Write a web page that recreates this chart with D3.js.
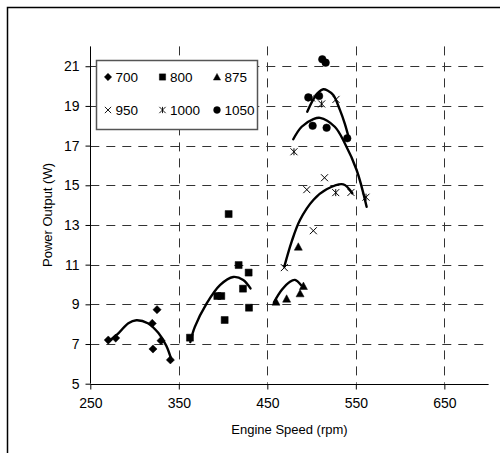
<!DOCTYPE html>
<html>
<head>
<meta charset="utf-8">
<script src="https://cdn.jsdelivr.net/npm/d3@7"></script>
<style>
    body { margin: 0; background: #fff; }
    svg { display: block; font-family: "Liberation Sans", Arial, sans-serif; }
</style>
</head>
<body>
<div id="chart"></div>
<script>
// series names (legend order) and their points [rpm, watts]
var seriesNames = ['700', '800', '875', '950', '1000', '1050'];

var s700 = [[270.3, 7.2], [278.7, 7.3], [320, 8.04], [320.8, 6.75], [325.4, 8.73], [329.9, 7.17], [340.5, 6.2]];
var s800 = [[362.6, 7.32], [393.5, 9.42], [398, 9.42], [401.8, 8.21], [406.3, 13.55], [417.6, 10.98], [422.5, 9.79], [428.9, 10.6], [429.3, 8.83]];
var s875 = [[459.8, 9.13], [471.8, 9.28], [485, 11.9], [487, 9.55], [490.8, 9.92]];
var s950 = [[469.2, 10.85], [494.6, 14.78], [502, 12.71], [514.6, 15.38], [527.6, 19.33], [544.5, 14.64]];
var s1000 = [[480.1, 16.69], [500, 19.4], [511.4, 19.1], [527.3, 14.63], [561.5, 14.4]];
var s1050 = [[512.1, 21.35], [515.9, 21.18], [496.3, 19.43], [508.5, 19.5], [501.2, 18.0], [517, 17.9], [540.3, 17.37]];

// trendlines
var t700 = [[270, 7.1], [282, 7.55], [293, 8.05], [302, 8.2], [315, 8.05], [327, 7.55], [336, 6.9], [342, 6.15]];
var t800 = [[363, 7.1], [368, 7.85], [381.5, 9.05], [396.5, 9.97], [411.5, 10.38], [422.8, 10.23], [431, 9.8]];
var t875 = [[457.5, 9.1], [466.2, 9.72], [475.6, 10.14], [481.2, 10.23], [488, 9.97]];
var t950 = [[469.2, 10.9], [477.5, 12.16], [486.9, 13.25], [502, 14.26], [517, 14.8], [535.8, 15.05], [546, 14.6]];
var t1000 = [[479.3, 17.32], [488.8, 17.95], [502, 18.33], [509.5, 18.4], [526.2, 17.95], [537.5, 17.12], [550.9, 15.77], [562.2, 13.92]];
var t1050 = [[495.1, 18.71], [502, 19.33], [508, 19.7], [513.2, 19.84], [518, 19.78], [524.5, 19.55], [532, 18.8], [537.6, 18.1], [542.6, 17.3]];

var xTicks = [250, 350, 450, 550, 650];
var yTicks = [5, 7, 9, 11, 13, 15, 17, 19, 21];

var seriesData = [s700, s800, s875, s950, s1000, s1050];
var trendData = [t700, t800, t875, t950, t1000, t1050];

var width = 500, height = 453;

var x = d3.scaleLinear().domain([250, 700]).range([90.3, 488.6]);
var y = d3.scaleLinear().domain([5, 22]).range([383.7, 46.4]);

// marker shapes, "size" is used as half-width
var shapes = {
    diamond: { draw: function(c, r) { r += 0.6; c.moveTo(0, -r); c.lineTo(r, 0); c.lineTo(0, r); c.lineTo(-r, 0); c.closePath(); } },
    square: { draw: function(c, r) { c.rect(-r, -r, 2 * r, 2 * r); } },
    triangle: { draw: function(c, r) { r += 0.5; c.moveTo(0, -r); c.lineTo(r, r * 0.85); c.lineTo(-r, r * 0.85); c.closePath(); } },
    cross: { draw: function(c, r) { c.moveTo(-r, -r); c.lineTo(r, r); c.moveTo(r, -r); c.lineTo(-r, r); } },
    star: { draw: function(c, r) { c.moveTo(-r, -r); c.lineTo(r, r); c.moveTo(r, -r); c.lineTo(-r, r); c.moveTo(0, -r); c.lineTo(0, r); } },
    circle: { draw: function(c, r) { r += 0.3; c.moveTo(r, 0); c.arc(0, 0, r, 0, 2 * Math.PI); } }
};
var seriesShape = ['diamond', 'square', 'triangle', 'cross', 'star', 'circle'];
var filled = { diamond: true, square: true, triangle: true, circle: true };

function symbolPath(name) {
    return d3.symbol().type(shapes[name]).size(3.5)();
}

function styleMarker(sel, name) {
    sel.attr('d', symbolPath(name))
        .attr('fill', filled[name] ? '#000' : 'none')
        .attr('stroke', '#000')
        .attr('stroke-width', filled[name] ? 0.5 : 1);
}

var svg = d3.select('#chart').append('svg')
    .attr('width', width)
    .attr('height', height);

svg.append('rect')
    .attr('width', width).attr('height', height)
    .attr('fill', '#fff');

// outer chart border (runs off the right and bottom)
svg.append('rect')
    .attr('x', 7.5).attr('y', 7.5)
    .attr('width', 520).attr('height', 480)
    .attr('fill', 'none')
    .attr('stroke', '#000')
    .attr('stroke-width', 1.5);

// grid
var grid = svg.append('g').attr('stroke', '#333').attr('stroke-width', 1).attr('stroke-dasharray', '9,7');

grid.selectAll('line.h')
    .data(yTicks.filter(function(d) { return d > 5; }))
    .enter().append('line')
    .attr('class', 'h')
    .attr('x1', x(250)).attr('x2', x(700))
    .attr('y1', function(d) { return Math.round(y(d)) + 0.5; })
    .attr('y2', function(d) { return Math.round(y(d)) + 0.5; });

grid.selectAll('line.v')
    .data(xTicks.filter(function(d) { return d > 250; }))
    .enter().append('line')
    .attr('class', 'v')
    .attr('x1', function(d) { return Math.round(x(d)) + 0.5; })
    .attr('x2', function(d) { return Math.round(x(d)) + 0.5; })
    .attr('y1', y(22)).attr('y2', y(5));

// axes
var xAxis = svg.append('g')
    .attr('transform', 'translate(0,' + (Math.round(y(5)) + 0.5) + ')')
    .call(d3.axisBottom(x).tickValues(xTicks).tickSize(5).tickPadding(9).tickFormat(d3.format('d')));

var yAxis = svg.append('g')
    .attr('transform', 'translate(' + (Math.round(x(250)) + 0.5) + ',0)')
    .call(d3.axisLeft(y).tickValues(yTicks).tickSize(5).tickPadding(6).tickFormat(d3.format('d')));

[xAxis, yAxis].forEach(function(a) {
    a.select('.domain').attr('stroke', '#000').attr('d', null);
    a.selectAll('.tick line').attr('stroke', '#000');
    a.selectAll('.tick text')
        .attr('fill', '#000')
        .style('font-size', '14px')
        .style('font-family', '"Liberation Sans", Arial, sans-serif');
});

xAxis.select('.domain').attr('d', 'M' + x(250) + ',0H' + x(700));
yAxis.select('.domain').attr('d', 'M0,' + y(22) + 'V' + y(5));

// axis titles
svg.append('text')
    .attr('x', 289.5).attr('y', 433.5)
    .attr('text-anchor', 'middle')
    .style('font-size', '13px')
    .text('Engine Speed (rpm)');

svg.append('text')
    .attr('transform', 'translate(52,215) rotate(-90)')
    .attr('text-anchor', 'middle')
    .style('font-size', '13px')
    .text('Power Output (W)');

// trendlines
var line = d3.line()
    .x(function(d) { return x(d[0]); })
    .y(function(d) { return y(d[1]); })
    .curve(d3.curveCatmullRom.alpha(0.5));

svg.append('g').selectAll('path')
    .data(trendData)
    .enter().append('path')
    .attr('d', line)
    .attr('fill', 'none')
    .attr('stroke', '#000')
    .attr('stroke-width', 2.4)
    .attr('stroke-linecap', 'round');

// markers
seriesData.forEach(function(points, i) {
    svg.append('g').selectAll('path')
        .data(points)
        .enter().append('path')
        .attr('transform', function(d) { return 'translate(' + x(d[0]) + ',' + y(d[1]) + ')'; })
        .call(styleMarker, seriesShape[i]);
});

// legend
var legend = svg.append('g');
legend.append('rect')
    .attr('x', 96.5).attr('y', 60.5)
    .attr('width', 161).attr('height', 69)
    .attr('fill', '#fff')
    .attr('stroke', '#555')
    .attr('stroke-width', 1.5);

var item = legend.selectAll('g.item')
    .data(seriesNames)
    .enter().append('g')
    .attr('class', 'item')
    .attr('transform', function(d, i) {
        return 'translate(' + (108 + (i % 3) * 54.5) + ',' + (i < 3 ? 77 : 110) + ')';
    });

item.append('path')
    .each(function(d, i) { d3.select(this).call(styleMarker, seriesShape[i]); })
    .attr('transform', 'scale(0.9)');

item.append('text')
    .attr('x', 7.5).attr('y', 5)
    .style('font-size', '13.5px')
    .text(function(d) { return d; });
</script>
</body>
</html>
